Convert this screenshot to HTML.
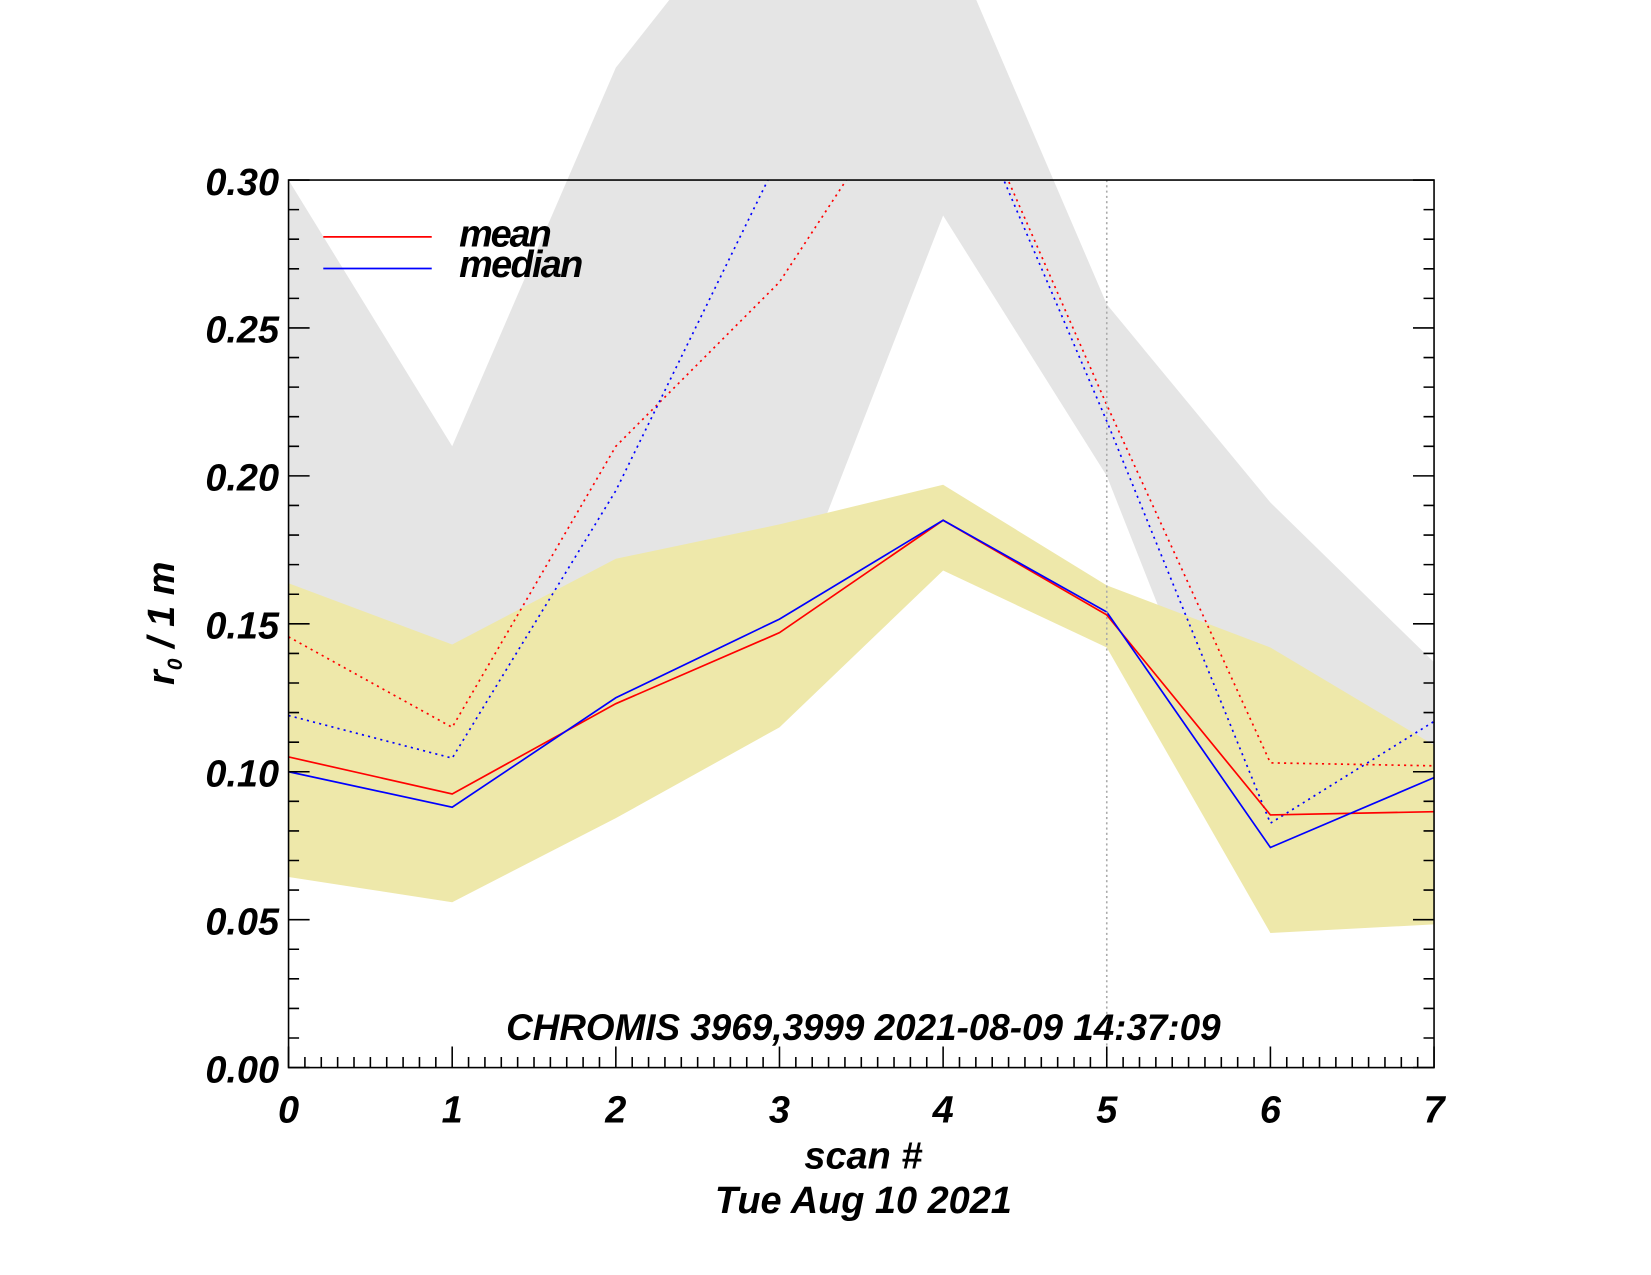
<!DOCTYPE html>
<html><head><meta charset="utf-8"><style>
html,body{margin:0;padding:0;background:#fff}
svg{display:block}
text{font-family:"Liberation Sans",sans-serif;font-weight:bold;font-style:italic;fill:#000}
</style></head><body>
<svg id="chart" width="1651" height="1275" viewBox="0 0 1568 1211" xmlns="http://www.w3.org/2000/svg">
<defs><clipPath id="pc"><rect x="274" y="171" width="1088" height="843"/></clipPath></defs>
<g id="bands"></g>
<g id="lines" clip-path="url(#pc)"></g>
<g id="axes"></g>
</svg>
<script>
const scans=[0,1,2,3,4,5,6,7];
const grayUpper=[0.30,0.210,0.338,0.408,0.387,0.258,0.191,0.137];
const grayLower=[0.07,0.10,0.12,0.146,0.288,0.20,0.06,0.10];
const yellowUpper=[0.1637,0.143,0.172,0.1836,0.197,0.163,0.142,0.109];
const yellowLower=[0.0644,0.0559,0.0843,0.115,0.168,0.142,0.0455,0.0484];
const meanVals=[0.105,0.0925,0.123,0.147,0.185,0.153,0.0854,0.0865];
const medianVals=[0.100,0.088,0.125,0.1516,0.185,0.154,0.0744,0.098];
const meanDotted=[0.1456,0.115,0.21,0.2655,0.35,0.224,0.103,0.102];
const medianDotted=[0.119,0.1046,0.195,0.308,0.348,0.2185,0.0826,0.117];
const yTicks=[0,0.05,0.10,0.15,0.20,0.25,0.30];
const yTickLabels=["0.00","0.05","0.10","0.15","0.20","0.25","0.30"];
const xTickLabels=["0","1","2","3","4","5","6","7"];
const X0=274,X1=1362,Y0=1014,Y1=171;
const xs=v=>X0+(X1-X0)*v/7;
const ys=v=>Y0-(Y0-Y1)*v/0.30;
const NS="http://www.w3.org/2000/svg";
function mk(tag,parent,attrs){const e=document.createElementNS(NS,tag);for(const k in attrs)e.setAttribute(k,attrs[k]);document.getElementById(parent).appendChild(e);return e;}
function band(up,lo,fill,name){
  const pts=scans.map((s,i)=>xs(s)+","+ys(up[i])).concat(scans.slice().reverse().map((s,j)=>{const i=scans.length-1-j;return xs(s)+","+ys(lo[i]);}));
  const p=mk("polygon","bands",{points:pts.join(" "),fill:fill});
  
  
}
band(grayUpper,grayLower,"#e5e5e5","gray-range-band");
band(yellowUpper,yellowLower,"#eee8aa","yellow-range-band");
function line(vals,color,dash,name){
  const p=mk("polyline","lines",{points:scans.map((s,i)=>xs(s)+","+ys(vals[i])).join(" "),fill:"none",stroke:color,"stroke-width":1.6});
  if(dash)p.setAttribute("stroke-dasharray","2 4");
  
  
}
line(meanDotted,"#ff0000",true,"mean-dotted-line");
line(medianDotted,"#0000ff",true,"median-dotted-line");
line(meanVals,"#ff0000",false,"mean-line");
line(medianVals,"#0000ff",false,"median-line");
const vl=mk("line","lines",{x1:xs(5),x2:xs(5),y1:Y1,y2:Y0,stroke:"#aaa","stroke-width":1.5,"stroke-dasharray":"2 3"});


const fr=mk("rect","axes",{x:X0,y:Y1,width:X1-X0,height:Y0-Y1,fill:"none",stroke:"#000","stroke-width":1.5});


let d="";
for(let k=0;k<=30;k++){const y=ys(k*0.01);const L=(k%5===0)?20:10;d+=`M${X0},${y}h${L}M${X1},${y}h${-L}`;}
for(let k=0;k<=70;k++){const x=xs(k/10);const L=(k%10===0)?20:10;d+=`M${x},${Y0}v${-L}`;}
const tk=mk("path","axes",{d:d,stroke:"#000","stroke-width":1.5,fill:"none"});


yTicks.forEach((v,i)=>{const t=mk("text","axes",{x:265,y:ys(v)+14,"text-anchor":"end","font-size":36});t.textContent=yTickLabels[i];

});
xTickLabels.forEach((l,i)=>{const t=mk("text","axes",{x:xs(i),y:1066,"text-anchor":"middle","font-size":36});t.textContent=l;

});
</script>
<svg style="position:absolute;left:0;top:0" width="1651" height="1275" viewBox="0 0 1568 1211" xmlns="http://www.w3.org/2000/svg">
<text x="820" y="1110" text-anchor="middle" font-size="36">scan #</text>
<text x="820" y="1152" text-anchor="middle" font-size="36">Tue Aug 10 2021</text>
<text transform="translate(165,592) rotate(-90)" text-anchor="middle" font-size="36">r<tspan font-size="20" dy="8">0</tspan><tspan dy="-8"> / 1 m</tspan></text>
<text x="820" y="988" text-anchor="middle" font-size="35">CHROMIS 3969,3999 2021-08-09 14:37:09</text>
<line x1="307" y1="225" x2="410" y2="225" stroke="#f00" stroke-width="1.6"/>
<line x1="307" y1="255" x2="410" y2="255" stroke="#00f" stroke-width="1.6"/>
<text x="436" y="234" font-size="36" textLength="88">mean</text>
<text x="436" y="263" font-size="36" textLength="118">median</text>
</svg>
</body></html>
